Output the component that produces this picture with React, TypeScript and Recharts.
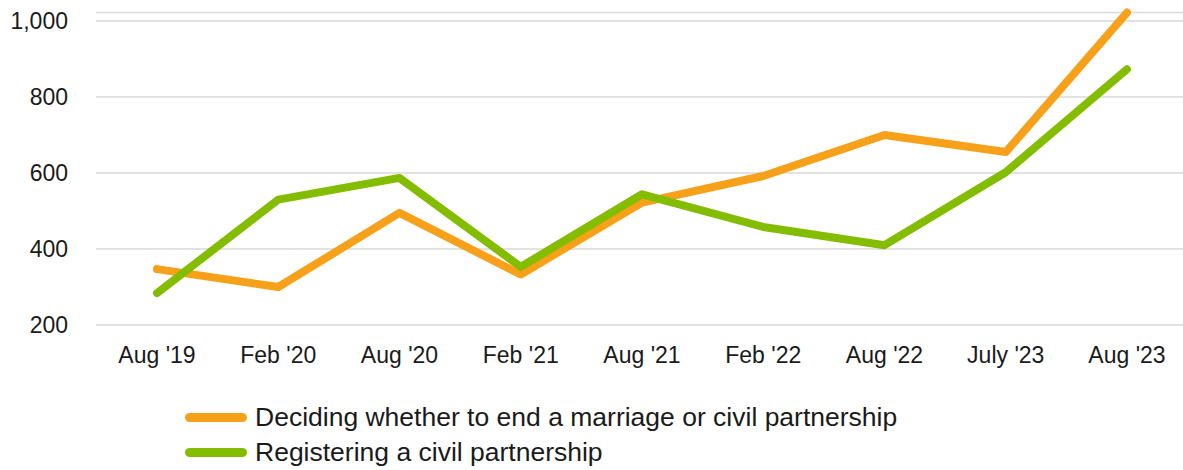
import { CartesianGrid, Legend, Line, LineChart, XAxis, YAxis } from "recharts";

const periods = [
  "Aug '19",
  "Feb '20",
  "Aug '20",
  "Feb '21",
  "Aug '21",
  "Feb '22",
  "Aug '22",
  "July '23",
  "Aug '23",
];
const endingMarriage = [347, 300, 495, 333, 522, 592, 700, 655, 1022];
const civilPartnership = [284, 530, 587, 353, 544, 458, 410, 602, 873];
const yTicks = [200, 400, 600, 800, 1000];

const ORANGE = "#F7A11A";
const GREEN = "#84BD00";
const FONT = "'Liberation Sans', Arial, sans-serif";
const TEXT = "#1a1a1a";

const legendItems = [
  { label: "Deciding whether to end a marriage or civil partnership", color: ORANGE },
  { label: "Registering a civil partnership", color: GREEN },
];

const data = periods.map((period, i) => ({
  period,
  ending: endingMarriage[i],
  civil: civilPartnership[i],
}));

function ChartLegend() {
  return (
    <div style={{ height: 85, paddingTop: 15, paddingLeft: 185, boxSizing: "border-box" }}>
      {legendItems.map((item) => (
        <div
          key={item.label}
          style={{ display: "flex", alignItems: "center", height: 35 }}
        >
          <span
            style={{
              display: "inline-block",
              width: 62,
              height: 9,
              borderRadius: 5,
              background: item.color,
              marginRight: 8,
            }}
          />
          <span style={{ fontFamily: FONT, fontSize: 26.5, color: TEXT }}>
            {item.label}
          </span>
        </div>
      ))}
    </div>
  );
}

export default function App() {
  return (
    <div style={{ position: "absolute", left: 0, top: 0, background: "#fff" }}>
      <LineChart
        width={1183}
        height={470}
        data={data}
        margin={{ top: 12.6, right: 0, bottom: 0, left: 0 }}
      >
        <CartesianGrid vertical={false} stroke="#d9d9d9" strokeWidth={1.5} />
        <XAxis
          dataKey="period"
          axisLine={false}
          tickLine={false}
          tickSize={0}
          tickMargin={22}
          height={60}
          interval={0}
          padding={{ left: 61, right: 56 }}
          tick={{ fill: TEXT, fontSize: 23, fontFamily: FONT }}
        />
        <YAxis
          domain={[200, "dataMax"]}
          ticks={yTicks}
          axisLine={false}
          tickLine={false}
          tickSize={0}
          tickMargin={28}
          width={96}
          tickFormatter={(v: number) => v.toLocaleString("en-US")}
          tick={{ fill: TEXT, fontSize: 23, fontFamily: FONT }}
        />
        <Legend
          verticalAlign="bottom"
          align="left"
          content={() => <ChartLegend />}
          wrapperStyle={{ left: 0, width: 1183 }}
        />
        <Line
          dataKey="ending"
          stroke={ORANGE}
          strokeWidth={8}
          strokeLinecap="round"
          strokeLinejoin="round"
          dot={false}
          activeDot={false}
          isAnimationActive={false}
        />
        <Line
          dataKey="civil"
          stroke={GREEN}
          strokeWidth={8}
          strokeLinecap="round"
          strokeLinejoin="round"
          dot={false}
          activeDot={false}
          isAnimationActive={false}
        />
      </LineChart>
    </div>
  );
}
